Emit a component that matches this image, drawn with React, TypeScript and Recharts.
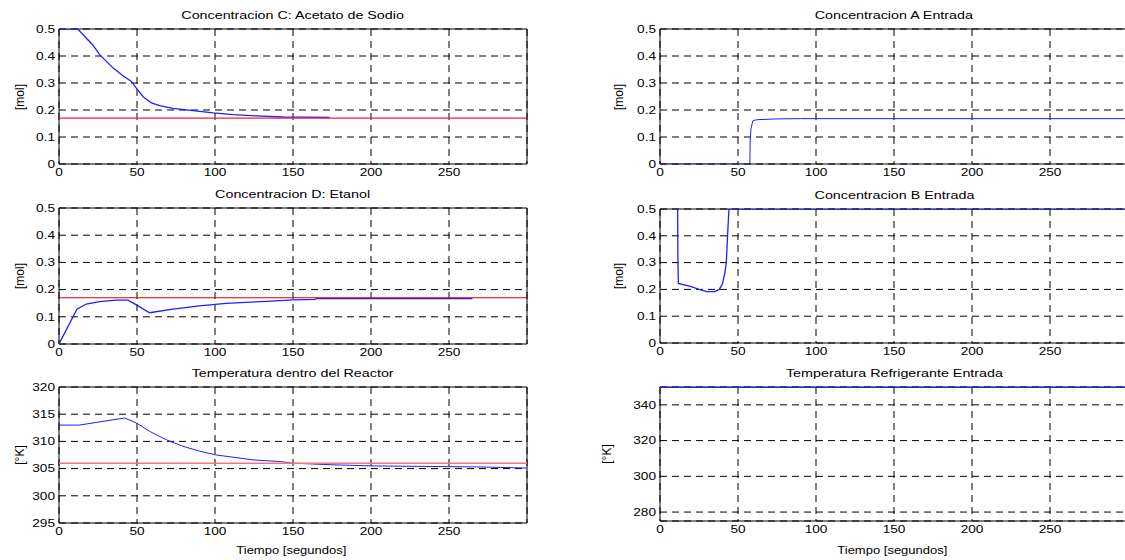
import * as React from 'react';
import { CartesianGrid, Line, LineChart, ReferenceArea, XAxis, YAxis } from 'recharts';

const FONT = '"Liberation Sans", Arial, Helvetica, sans-serif';
// the figure text is rendered wide, so glyphs get stretched horizontally
const STRETCH = 1.3;

const tiempoTicks = [0, 50, 100, 150, 200, 250];
const molTicks = [0, 0.1, 0.2, 0.3, 0.4, 0.5];
const tempReactorTicks = [295, 300, 305, 310, 315, 320];
const tempRefrigTicks = [280, 300, 320, 340];

// Concentracion C: Acetato de Sodio
const tConcC = [0, 12, 21.8, 26, 34.6, 41, 46.4, 49.6, 53.8, 59.2, 64.5, 73, 86, 98.7, 111.5, 126.5, 143.6, 173.5];
const concC = [0.5, 0.5, 0.44, 0.405, 0.356, 0.327, 0.306, 0.281, 0.25, 0.226, 0.216, 0.206, 0.198, 0.189, 0.183, 0.178, 0.174, 0.173];
const refConcC = [0.17, 0.17];

// Concentracion D: Etanol
const tConcD = [0, 11.5, 17.5, 26, 36.8, 44.2, 49.6, 58.1, 73, 90, 107, 133, 150, 164, 165, 200, 265];
const concD = [0, 0.128, 0.147, 0.156, 0.161, 0.161, 0.144, 0.115, 0.128, 0.14, 0.149, 0.157, 0.162, 0.164, 0.167, 0.167, 0.167];
const refConcD = [0.17, 0.17];

// Temperatura dentro del Reactor
const tTempR = [0, 13, 42, 49.6, 58.1, 68.8, 79.5, 90.2, 100.9, 111.5, 124.4, 141.5, 150, 175, 200, 270, 300];
const tempR = [313, 313, 314.3, 313.4, 311.85, 310.3, 309.1, 308.2, 307.5, 307.1, 306.6, 306.3, 306.0, 305.7, 305.5, 305.3, 305.1];
const refTempR = [306, 306];

// Concentracion A Entrada
const tConcA = [0, 57.6, 57.8, 58.3, 59.5, 62, 75, 90, 300];
const concA = [0, 0, 0.08, 0.13, 0.16, 0.164, 0.167, 0.168, 0.168];

// Concentracion B Entrada
const tConcB = [11.3, 11.5, 11.8, 20, 25, 30, 35, 38, 40, 41.5, 42.5, 43.3, 44.2, 300];
const concB = [0.5, 0.3, 0.222, 0.21, 0.2, 0.192, 0.192, 0.2, 0.22, 0.26, 0.3, 0.4, 0.5, 0.5];

// Temperatura Refrigerante Entrada
const tTempRef = [0, 300];
const tempRef = [350, 350];

const tRef = [0, 300];

const zip = (t: number[], v: number[]) => t.map((x, i) => ({ t: x, v: v[i] }));

interface Serie {
    data: { t: number; v: number }[];
    color: string;
    width?: number;
}

interface PanelProps {
    x: number;
    y: number;
    h: number;
    title: string;
    ylabel: string;
    ylabelOffset: number;
    domain: [number, number];
    ticks: number[];
    series: Serie[];
    xlabel?: boolean;
}

const PLOT_W = 468;
const AXIS_W = 59;
const AXIS_H = 22;
const TOP = 5;

const xTick = (p: any) => (
    <g transform={`translate(${p.x},${p.y}) scale(${STRETCH},1)`}>
        <text x={0} y={0} dy="0.71em" textAnchor="middle" fontSize={10.5} fontFamily={FONT} fill="#000">
            {p.payload.value}
        </text>
    </g>
);

const yTick = (p: any) => (
    <g transform={`translate(${p.x},${p.y}) scale(${STRETCH},1)`}>
        <text x={0} y={0} dy="0.36em" textAnchor="end" fontSize={10.5} fontFamily={FONT} fill="#000">
            {p.payload.value}
        </text>
    </g>
);

const stretched: React.CSSProperties = { display: 'inline-block', transform: `scaleX(${STRETCH})` };

function Panel({ x, y, h, title, ylabel, ylabelOffset, domain, ticks, series, xlabel }: PanelProps) {
    return (
        <>
            <div style={{ position: 'absolute', left: x, top: y - 21, width: PLOT_W, textAlign: 'center', fontSize: 11, lineHeight: '14px' }}>
                <span style={stretched}>{title}</span>
            </div>
            <div style={{
                position: 'absolute', left: x - ylabelOffset - 40, top: y + h / 2 - 7, width: 80,
                textAlign: 'center', fontSize: 12, lineHeight: '14px', transform: 'rotate(-90deg)',
            }}>
                {ylabel}
            </div>
            {xlabel && (
                <div style={{ position: 'absolute', left: x + 232 - 100, top: 544, width: 200, textAlign: 'center', fontSize: 10, lineHeight: '14px' }}>
                    <span style={stretched}>Tiempo [segundos]</span>
                </div>
            )}
            <div style={{ position: 'absolute', left: x - AXIS_W, top: y - TOP }}>
                <LineChart
                    width={AXIS_W + PLOT_W + 6}
                    height={TOP + h + AXIS_H}
                    margin={{ top: TOP, right: 6, left: 0, bottom: 0 }}
                >
                    <CartesianGrid stroke="#000" strokeWidth={1} strokeDasharray="7 5" />
                    <XAxis
                        type="number"
                        dataKey="t"
                        domain={[0, 300]}
                        ticks={tiempoTicks}
                        interval={0}
                        allowDataOverflow
                        axisLine={false}
                        tickLine={false}
                        tickSize={3}
                        tickMargin={2}
                        height={AXIS_H}
                        tick={xTick}
                    />
                    <YAxis
                        type="number"
                        domain={domain}
                        ticks={ticks}
                        interval={0}
                        allowDataOverflow
                        axisLine={false}
                        tickLine={false}
                        tickSize={2}
                        tickMargin={2}
                        width={AXIS_W}
                        tick={yTick}
                    />
                    <ReferenceArea x1={0} x2={300} y1={domain[0]} y2={domain[1]} fill="none" stroke="#000" strokeWidth={1} ifOverflow="visible" />
                    {series.map((s, i) => (
                        <Line
                            key={i}
                            data={s.data}
                            dataKey="v"
                            type="linear"
                            stroke={s.color}
                            strokeWidth={s.width ?? 1}
                            dot={false}
                            activeDot={false}
                            isAnimationActive={false}
                        />
                    ))}
                </LineChart>
            </div>
        </>
    );
}

const BLUE = '#1f1fff';

export default function App() {
    return (
        <div style={{
            position: 'absolute', left: 0, top: 0, width: 1125, height: 560, overflow: 'hidden',
            background: '#fff', fontFamily: FONT, color: '#000',
        }}>
            <Panel
                x={59} y={29} h={135}
                title="Concentracion C: Acetato de Sodio" ylabel="[mol]" ylabelOffset={39}
                domain={[0, 0.5]} ticks={molTicks}
                series={[
                    { data: zip(tConcC, concC), color: BLUE, width: 1.3 },
                    { data: zip(tRef, refConcC), color: '#f0203c', width: 1.2 },
                ]}
            />
            <Panel
                x={59} y={208} h={136}
                title="Concentracion D: Etanol" ylabel="[mol]" ylabelOffset={39}
                domain={[0, 0.5]} ticks={molTicks}
                series={[
                    { data: zip(tConcD, concD), color: BLUE, width: 1.3 },
                    { data: zip(tRef, refConcD), color: '#d80000' },
                ]}
            />
            <Panel
                x={59} y={387} h={136}
                title="Temperatura dentro del Reactor" ylabel="[°K]" ylabelOffset={39}
                domain={[295, 320]} ticks={tempReactorTicks}
                series={[
                    { data: zip(tTempR, tempR), color: BLUE },
                    { data: zip(tRef, refTempR), color: '#f07878', width: 1.5 },
                ]}
                xlabel
            />
            <Panel
                x={660} y={29} h={135}
                title="Concentracion A Entrada" ylabel="[mol]" ylabelOffset={41}
                domain={[0, 0.5]} ticks={molTicks}
                series={[{ data: zip(tConcA, concA), color: BLUE }]}
            />
            <Panel
                x={660} y={209} h={134}
                title="Concentracion B Entrada" ylabel="[mol]" ylabelOffset={41}
                domain={[0, 0.5]} ticks={molTicks}
                series={[{ data: zip(tConcB, concB), color: BLUE, width: 1.3 }]}
            />
            <Panel
                x={660} y={387} h={134}
                title="Temperatura Refrigerante Entrada" ylabel="[°K]" ylabelOffset={53}
                domain={[275, 350]} ticks={tempRefrigTicks}
                series={[{ data: zip(tTempRef, tempRef), color: BLUE, width: 2 }]}
                xlabel
            />
        </div>
    );
}
